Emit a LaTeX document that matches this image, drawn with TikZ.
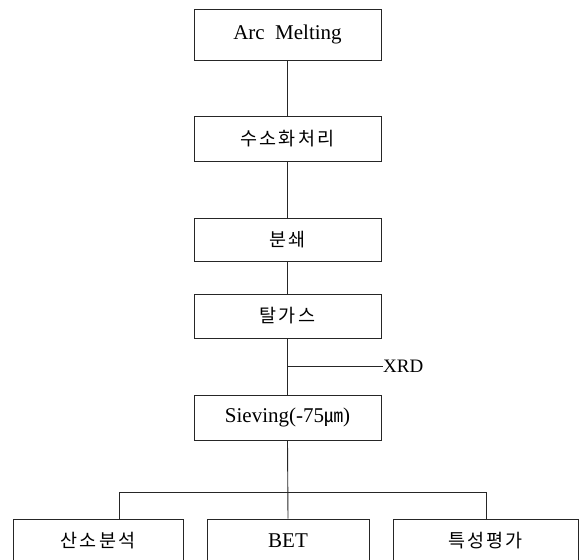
\documentclass[tikz,border=0pt]{standalone}
\usepackage{fontspec}
\setmainfont{Liberation Serif}
\newfontfamily\kor[LetterSpace=12]{Noto Sans CJK KR}
\newfontfamily\korplain{Noto Sans CJK KR}
\tikzset{
  box/.style={draw=black!85, line width=0.9pt, inner sep=0pt, align=center,
    font=\fontsize{21}{21}\selectfont},
  mainbox/.style={box, minimum width=187pt},
  ktxt/.style={font=\kor\fontsize{18.5}{18.5}\selectfont},
  conn/.style={draw=black!85, line width=0.9pt}
}
\begin{document}
\begin{tikzpicture}[x=1pt,y=-1pt]
\useasboundingbox (0,0) rectangle (579,560);
\node[mainbox, minimum height=51pt] (arc) at (287.5,34.5) {Arc\ \ Melting};
\node[mainbox, ktxt, minimum height=45pt] (hyd) at (287.5,138.5) {수소화처리};
\node[mainbox, ktxt, minimum height=43pt] (mill) at (287.5,239.5) {분쇄};
\node[mainbox, ktxt, minimum height=44pt] (degas) at (287.5,316) {탈가스};
\node[mainbox, minimum height=45pt] (sieve) at (287.5,417.5) {Sieving(-75{\korplain\fontsize{19}{19}\selectfont ㎛})};
\node[anchor=west, font=\fontsize{19}{19}\selectfont, inner sep=0pt] (xrd) at (383,366) {XRD};
\node[box, ktxt, minimum width=170pt, minimum height=43pt] (oxy) at (98,540.5) {산소분석};
\node[box, minimum width=162pt, minimum height=43pt] (bet) at (288,540.5) {BET};
\node[box, ktxt, minimum width=185pt, minimum height=43pt] (prop) at (485.5,540.5) {특성평가};
\coordinate (xj) at (288,366);
\coordinate (bj) at (288,492);
\coordinate (bl) at (119,492);
\coordinate (br) at (486,492);
\draw[conn] (arc.south) -- (hyd.north);
\draw[conn] (hyd.south) -- (mill.north);
\draw[conn] (mill.south) -- (degas.north);
\draw[conn] (degas.south) -- (sieve.north);
\draw[conn] (xj) -- (xrd.west);
\draw[conn] (sieve.south) -- (bet.north);
\draw[conn] (bl) -- (br);
\draw[conn] (bl) -- (bl |- oxy.north);
\draw[conn] (br) -- (br |- prop.north);
\end{tikzpicture}
\end{document}
